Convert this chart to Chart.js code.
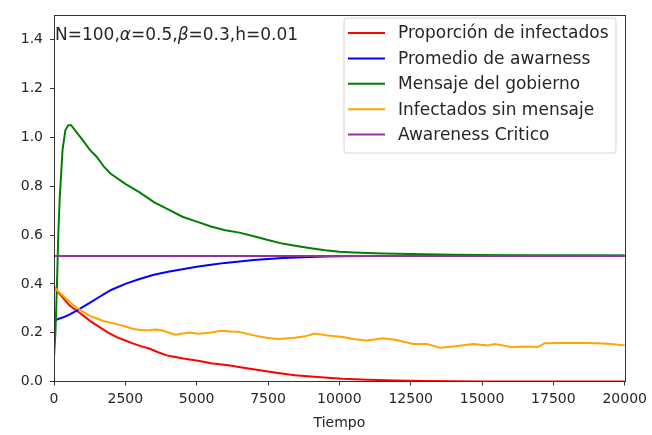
<!DOCTYPE html>
<html>
<head>
<meta charset="utf-8">
<script src="https://cdn.jsdelivr.net/npm/chart.js@4/dist/chart.umd.min.js"></script>
<style>
  html, body { margin: 0; padding: 0; background: #fff; }
  canvas { display: block; }
</style>
</head>
<body>
<canvas id="grafica" width="652" height="435"></canvas>
<script>
// series as [tiempo, valor] pairs
var infectados = [[0,0.39],[100,0.372],[300,0.345],[560,0.31],[800,0.29],[1030,0.27],[1300,0.245],[1610,0.222],[1900,0.2],[2200,0.182],[2500,0.168],[2780,0.155],[3100,0.143],[3360,0.134],[3650,0.12],[3950,0.107],[4250,0.1],[4530,0.094],[5050,0.085],[5500,0.075],[6100,0.067],[6700,0.055],[7270,0.045],[7850,0.035],[8440,0.026],[9000,0.02],[9600,0.015],[10100,0.011],[11000,0.007],[12000,0.004],[13000,0.002],[14000,0.001],[15000,0],[20000,0]]
var awareness = [[0,0.25],[100,0.254],[200,0.258],[300,0.262],[400,0.267],[500,0.272],[600,0.278],[800,0.29],[1000,0.305],[1250,0.322],[1500,0.34],[1750,0.358],[2000,0.375],[2500,0.4],[3000,0.42],[3500,0.437],[4000,0.45],[4500,0.46],[5000,0.47],[5500,0.478],[6000,0.486],[6500,0.492],[7000,0.498],[7500,0.502],[8000,0.506],[8500,0.508],[9000,0.51],[9500,0.512],[10000,0.513],[11000,0.514],[20000,0.515]]
var gobierno = [[0,0.1],[50,0.2],[100,0.38],[150,0.6],[200,0.75],[300,0.95],[400,1.03],[500,1.05],[600,1.05],[800,1.02],[1000,0.99],[1250,0.95],[1500,0.92],[1750,0.88],[2000,0.85],[2500,0.81],[3000,0.775],[3500,0.735],[4000,0.705],[4500,0.675],[5000,0.655],[5500,0.635],[6000,0.62],[6500,0.61],[7000,0.595],[7500,0.58],[8000,0.565],[8500,0.555],[9000,0.546],[9500,0.538],[10000,0.532],[10500,0.529],[11000,0.526],[11500,0.524],[12000,0.523],[13000,0.521],[14000,0.519],[15000,0.518],[16000,0.517],[20000,0.516]]
var sinMensaje = [[0,0.39],[100,0.375],[330,0.349],[560,0.325],[800,0.302],[1030,0.285],[1260,0.269],[1500,0.258],[1730,0.248],[2200,0.235],[2500,0.225],[2780,0.215],[3100,0.21],[3360,0.211],[3600,0.213],[3830,0.208],[4240,0.192],[4500,0.197],[4760,0.201],[5050,0.196],[5520,0.201],[5870,0.208],[6200,0.205],[6460,0.204],[7040,0.188],[7500,0.178],[7860,0.174],[8440,0.179],[8800,0.185],[9140,0.197],[9600,0.188],[10130,0.182],[10480,0.174],[10950,0.168],[11540,0.177],[12000,0.17],[12590,0.154],[13060,0.154],[13520,0.138],[13990,0.143],[14690,0.154],[15210,0.148],[15450,0.154],[16030,0.141],[16500,0.143],[16960,0.141],[17200,0.157],[17780,0.158],[18600,0.158],[19060,0.157],[19530,0.154],[20000,0.148]]
var critico = [[0,0.514],[20000,0.514]]

var etiquetas = ['Proporción de infectados','Promedio de awarness','Mensaje del gobierno','Infectados sin mensaje','Awareness Critico']
var colores = ['#ff0000','#0000ff','#008000','#ffa500','#933399']
var anotacion = [['N=100,',false],['α',true],['=0.5,',false],['β',true],['=0.3,h=0.01',false]]

var xTicks = { min: 0, max: 20000, step: 2500 }
var yTicks = { min: 0, max: 1.5, step: 0.2 }

var FUENTE = '"DejaVu Sans", sans-serif'
var TINTA = '#262626'

function puntos(serie){ return serie.map(function(p){ return {x:p[0], y:p[1]} }) }

var series = [infectados, awareness, gobierno, sinMensaje, critico]
var datasets = series.map(function(s, i){
  return {
    label: etiquetas[i],
    data: puntos(s),
    borderColor: colores[i],
    backgroundColor: colores[i],
    borderWidth: 2,
    pointRadius: 0,
    tension: 0,
    order: series.length - i   // later series on top, like the original plot order
  }
})

// frame on all four sides, text box and legend inside the axes
var marco = {
  id: 'marco',
  afterDatasetsDraw: function(chart){
    var ctx = chart.ctx, a = chart.chartArea
    ctx.save()
    ctx.strokeStyle = '#333'
    ctx.lineWidth = 1
    ctx.strokeRect(Math.round(a.left)+0.5, Math.round(a.top)+0.5, Math.round(a.right-a.left), Math.round(a.bottom-a.top))

    // parameter annotation anchored at (0, 1.4)
    var x = chart.scales.x.getPixelForValue(0) + 1
    var y = chart.scales.y.getPixelForValue(1.4)
    ctx.fillStyle = TINTA
    ctx.textBaseline = 'alphabetic'
    ctx.textAlign = 'left'
    anotacion.forEach(function(t){
      ctx.font = (t[1] ? 'italic ' : '') + '17px ' + FUENTE
      ctx.fillText(t[0], x, y)
      x += ctx.measureText(t[0]).width
    })

    // legend box
    var bx = 344, by = 18, bw = 272, bh = 135, r = 3
    ctx.beginPath()
    ctx.moveTo(bx+r, by)
    ctx.arcTo(bx+bw, by, bx+bw, by+bh, r)
    ctx.arcTo(bx+bw, by+bh, bx, by+bh, r)
    ctx.arcTo(bx, by+bh, bx, by, r)
    ctx.arcTo(bx, by, bx+bw, by, r)
    ctx.closePath()
    ctx.fillStyle = 'rgba(255,255,255,0.8)'
    ctx.fill()
    ctx.strokeStyle = '#d6d6d6'
    ctx.stroke()
    ctx.font = '17px ' + FUENTE
    ctx.textBaseline = 'middle'
    chart.data.datasets.forEach(function(ds, i){
      var ly = 33 + i*25.4
      ctx.beginPath()
      ctx.moveTo(348, ly)
      ctx.lineTo(385, ly)
      ctx.strokeStyle = ds.borderColor
      ctx.lineWidth = 2
      ctx.stroke()
      ctx.fillStyle = TINTA
      ctx.fillText(ds.label, 398, ly + 1)
    })
    ctx.restore()
  }
}

new Chart(document.getElementById('grafica'), {
  type: 'line',
  data: { datasets: datasets },
  options: {
    responsive: false,
    animation: false,
    layout: { padding: { top: 10, right: 27, left: 0, bottom: 0 } },
    plugins: { legend: { display: false }, tooltip: { enabled: false } },
    scales: {
      x: {
        type: 'linear',
        min: xTicks.min, max: xTicks.max,
        afterFit: function(s){ s.height = 53.5 },
        grid: { display: true, drawOnChartArea: false, drawTicks: true, tickLength: 4, color: '#333' },
        border: { display: true, color: '#333' },
        ticks: {
          stepSize: xTicks.step, color: TINTA, padding: 5, maxRotation: 0, autoSkip: false,
          font: { family: FUENTE, size: 14 },
          callback: function(v){ return String(v) }
        },
        title: { display: true, text: 'Tiempo', color: TINTA, font: { family: FUENTE, size: 14 }, padding: { top: 2, bottom: 3 } }
      },
      y: {
        min: yTicks.min, max: yTicks.max,
        afterFit: function(s){ s.width = 54 },
        grid: { display: true, drawOnChartArea: false, drawTicks: true, tickLength: 4, color: '#333' },
        border: { display: true, color: '#333' },
        ticks: {
          stepSize: yTicks.step, includeBounds: false, color: TINTA, padding: 7,
          font: { family: FUENTE, size: 14 },
          callback: function(v){ return v.toFixed(1) }
        }
      }
    }
  },
  plugins: [marco]
})
</script>
</body>
</html>
